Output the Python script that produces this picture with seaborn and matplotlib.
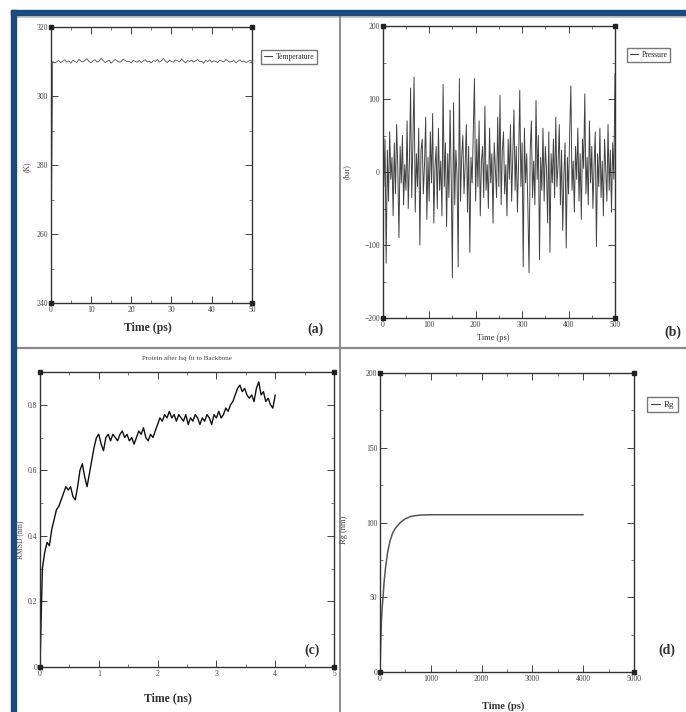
import numpy as np
import pandas as pd
import matplotlib
matplotlib.use("Agg")
import matplotlib.pyplot as plt
import seaborn as sns
from matplotlib.patches import Rectangle
from matplotlib.lines import Line2D
from matplotlib.ticker import MultipleLocator

# ---------------- data ----------------
temp_time = [0.0] + [0.5 * i for i in range(1, 101)]
temp_vals = [240.0,
    310.0, 309.6, 309.9, 310.3, 309.7, 310.1, 310.5, 309.8, 310.2, 309.5,
    310.4, 310.0, 309.7, 310.6, 310.1, 309.9, 310.3, 310.8, 310.0, 309.6,
    310.2, 310.5, 309.8, 310.1, 310.9, 310.3, 309.7, 310.0, 310.4, 309.5,
    310.1, 310.6, 310.2, 309.8, 310.0, 310.7, 310.3, 309.9, 310.1, 309.6,
    310.4, 310.0, 309.8, 310.3, 309.7, 310.2, 310.5, 309.9, 310.1, 309.6,
    310.3, 310.0, 310.6, 309.8, 310.2, 310.9, 310.1, 309.7, 310.4, 310.0,
    309.8, 310.5, 310.2, 309.9, 310.7, 310.1, 309.6, 310.3, 310.0, 310.4,
    309.8, 310.2, 310.6, 309.9, 310.1, 309.5, 310.3, 310.0, 310.5, 309.8,
    310.2, 310.0, 309.7, 310.4, 310.1, 309.9, 310.6, 310.2, 309.8, 310.0,
    310.3, 309.6, 310.1, 310.5, 309.9, 310.2, 309.7, 310.0, 310.3, 310.1]

press_vals = [
    60, -20, 45, -125, 30, -40, 55, -10, 20, -60,
    40, -30, 65, 5, -90, 35, -15, 50, -45, 10,
    -25, 70, -50, 15, 115, -35, 40, 130, -55, 25,
    -20, 60, -100, 30, 45, -30, 10, 75, -65, 20,
    -40, 55, -15, 80, -70, 5, 35, -50, 60, -25,
    15, -60, 120, -20, 40, -75, 25, -35, 85, -10,
    -145, 95, -45, 30, -5, -130, 128, -40, 20, 50,
    -30, 10, 65, -55, 35, -110, 20, -15, 55, 128,
    -40, 45, -20, 70, -60, 15, 35, -35, 90, -25,
    10, -50, 60, -15, 25, -70, 40, 5, -35, 75,
    -20, 105, -45, 30, 55, -30, 10, -60, 45, -10,
    65, -40, 20, 85, -25, 35, -55, 15, 112, -20,
    40, -130, 60, -15, 25, -50, -138, 30, 70, -35,
    15, -45, 98, -10, 50, -120, 20, -25, 60, -40,
    35, 5, -70, 55, -110, 25, -15, 45, -35, 75,
    -20, 10, 65, -45, 30, -80, -5, 40, -104, 20,
    -30, 55, 118, -25, 15, -55, 35, -10, 60, -40,
    25, -65, 45, 5, 107, -30, 20, -45, 70, -15,
    35, -50, 10, 55, -102, 25, -20, 60, -35, 15,
    -60, 45, 5, -40, 65, -25, 30, -55, 40, -10,
    135]
press_time = [2.5 * i for i in range(len(press_vals))]

rmsd_vals = [
    0.00, 0.30, 0.35, 0.38, 0.37, 0.42, 0.45, 0.48, 0.49, 0.51,
    0.53, 0.55, 0.54, 0.55, 0.52, 0.51, 0.55, 0.60, 0.62, 0.58,
    0.55, 0.59, 0.63, 0.67, 0.70, 0.71, 0.68, 0.66, 0.70, 0.71,
    0.69, 0.71, 0.70, 0.69, 0.71, 0.72, 0.70, 0.71, 0.69, 0.70,
    0.68, 0.70, 0.72, 0.71, 0.73, 0.70, 0.69, 0.71, 0.70, 0.72,
    0.74, 0.76, 0.75, 0.77, 0.76, 0.78, 0.76, 0.77, 0.75, 0.77,
    0.76, 0.75, 0.77, 0.74, 0.76, 0.75, 0.77, 0.76, 0.74, 0.76,
    0.75, 0.77, 0.76, 0.74, 0.77, 0.76, 0.78, 0.76, 0.77, 0.79,
    0.78, 0.80, 0.81, 0.83, 0.85, 0.86, 0.84, 0.85, 0.83, 0.82,
    0.83, 0.81, 0.85, 0.87, 0.83, 0.84, 0.81, 0.82, 0.80, 0.79,
    0.83]
rmsd_time = [0.04 * i for i in range(len(rmsd_vals))]

rg_time = [0, 10, 20, 30, 45, 60, 80, 100, 125, 150, 200, 250, 300, 400,
           500, 600, 700, 800, 1000, 1500, 2000, 3000, 4000]
rg_vals = [0, 14, 26, 35, 44, 50, 60, 67, 74, 80, 88, 93, 96, 100,
           102.5, 104, 104.6, 105, 105.2, 105.2, 105.2, 105.2, 105.2]

# ---------------- style ----------------
sns.set_style("ticks")
plt.rcParams["font.family"] = ["Liberation Serif", "DejaVu Serif"]
plt.rcParams["axes.linewidth"] = 1.0
plt.rcParams["axes.edgecolor"] = "#333333"

W, H = 686, 712
fig = plt.figure(figsize=(W / 100, H / 100), dpi=100)
fig.patch.set_facecolor("white")


def fx(x):
    return x / W


def fy(y):
    return 1 - y / H


def make_ax(left, top, right, bottom):
    return fig.add_axes([fx(left), fy(bottom), (right - left) / W, (bottom - top) / H])


def style(ax, xmaj, xmin, ymaj, ymin, fs=5.5):
    ax.xaxis.set_major_locator(MultipleLocator(xmaj))
    ax.xaxis.set_minor_locator(MultipleLocator(xmin))
    ax.yaxis.set_major_locator(MultipleLocator(ymaj))
    ax.yaxis.set_minor_locator(MultipleLocator(ymin))
    ax.tick_params(which="both", direction="in", top=True, right=True,
                   labelsize=fs, colors="#444444", pad=2)
    ax.tick_params(which="major", length=5, width=0.7)
    ax.tick_params(which="minor", length=2.5, width=0.5)
    for s in ax.spines.values():
        s.set_visible(True)
        s.set_color("#333333")
    ax.set_xlabel("")
    ax.set_ylabel("")
    # grace-style corner markers
    ax.plot([0, 1, 0, 1], [0, 0, 1, 1], transform=ax.transAxes, ls="none",
            marker="s", ms=3.5, color="#222222", clip_on=False, zorder=5)


def legend(ax, label, x0, y0, x1, y1, fs=5.5):
    h = [Line2D([], [], color="#444444", lw=0.8)]
    fig.legend(h, [label], loc="center left",
               bbox_to_anchor=(fx(x0), fy(y1), (x1 - x0) / W, (y1 - y0) / H),
               fontsize=fs, frameon=True, fancybox=False, framealpha=1,
               edgecolor="#777777", handlelength=1.0, handletextpad=0.5,
               borderpad=0.4, borderaxespad=0)


# ---------------- (a) temperature ----------------
ax_a = make_ax(50.7, 27, 252, 303)
df_a = pd.DataFrame({"t": temp_time, "T": temp_vals})
sns.lineplot(data=df_a, x="t", y="T", ax=ax_a, color="#555555", lw=0.6)
ax_a.set_xlim(0, 50)
ax_a.set_ylim(240, 320)
style(ax_a, 10, 5, 20, 10)
legend(ax_a, "Temperature", 261, 47, 330, 67)
fig.text(fx(27), fy(167), "(K)", rotation=90, fontsize=5.5, ha="center", va="center", color="#444444")
fig.text(fx(148), fy(328), "Time (ps)", fontsize=8.5, fontweight="bold", ha="center", va="center", color="#333333")
fig.text(fx(316), fy(329), "(a)", fontsize=10, fontweight="bold", ha="center", va="center", color="#333333")

# ---------------- (b) pressure ----------------
ax_b = make_ax(382.7, 26, 615, 318)
df_b = pd.DataFrame({"t": press_time, "P": press_vals})
sns.lineplot(data=df_b, x="t", y="P", ax=ax_b, color="#222222", lw=0.7, alpha=0.85)
ax_b.set_xlim(0, 500)
ax_b.set_ylim(-200, 200)
style(ax_b, 100, 50, 100, 50)
legend(ax_b, "Pressure", 627, 47, 690, 63)
fig.text(fx(347), fy(172), "(bar)", rotation=90, fontsize=5.5, ha="center", va="center", color="#444444")
fig.text(fx(493), fy(338), "Time (ps)", fontsize=6, ha="center", va="center", color="#333333")
fig.text(fx(673), fy(332), "(b)", fontsize=10, fontweight="bold", ha="center", va="center", color="#333333")

# ---------------- (c) RMSD ----------------
ax_c = make_ax(40, 372, 334, 667)
df_c = pd.DataFrame({"t": rmsd_time, "r": rmsd_vals})
sns.lineplot(data=df_c, x="t", y="r", ax=ax_c, color="#111111", lw=1.0)
ax_c.set_xlim(0, 5)
ax_c.set_ylim(0, 0.9)
style(ax_c, 1, 0.5, 0.2, 0.1)
ax_c.yaxis.set_major_formatter(matplotlib.ticker.FuncFormatter(lambda v, p: "0" if abs(v) < 1e-9 else f"{v:.1f}"))
fig.text(fx(187), fy(358), "Protein after lsq fit to Backbone", fontsize=5, ha="center", va="center", color="#444444")
fig.text(fx(20), fy(540), "RMSD (nm)", rotation=90, fontsize=5.5, ha="center", va="center", color="#444444")
fig.text(fx(168), fy(698), "Time (ns)", fontsize=8.5, fontweight="bold", ha="center", va="center", color="#333333")
fig.text(fx(312), fy(650), "(c)", fontsize=10, fontweight="bold", ha="center", va="center", color="#333333")

# ---------------- (d) Rg ----------------
ax_d = make_ax(380, 373, 634, 672)
df_d = pd.DataFrame({"t": rg_time, "rg": rg_vals})
sns.lineplot(data=df_d, x="t", y="rg", ax=ax_d, color="#555555", lw=1.1)
ax_d.set_xlim(0, 5000)
ax_d.set_ylim(0, 200)
style(ax_d, 1000, 500, 50, 25)
legend(ax_d, "Rg", 647, 394, 690, 415, fs=6.5)
fig.text(fx(344), fy(530), "Rg (nm)", rotation=90, fontsize=6, ha="center", va="center", color="#444444")
fig.text(fx(503), fy(706), "Time (ps)", fontsize=7.5, fontweight="bold", ha="center", va="center", color="#333333")
fig.text(fx(667), fy(650), "(d)", fontsize=10, fontweight="bold", ha="center", va="center", color="#333333")

# ---------------- frame decorations ----------------
blue = "#1F4A80"
fig.add_artist(Rectangle((fx(11), 0), 5 / W, fy(10), transform=fig.transFigure, color=blue, zorder=10))
fig.add_artist(Rectangle((fx(11), fy(15)), 1 - fx(11), 5 / H, transform=fig.transFigure, color=blue, zorder=10))
fig.add_artist(Line2D([fx(16), 1], [fy(16.5), fy(16.5)], transform=fig.transFigure, color="#cccccc", lw=1.5))
fig.add_artist(Line2D([fx(340), fx(340)], [0, fy(15)], transform=fig.transFigure, color="#888888", lw=1.3))
fig.add_artist(Line2D([fx(16), 1], [fy(348), fy(348)], transform=fig.transFigure, color="#888888", lw=1.6))

fig.savefig("out.png", dpi=100, facecolor="white")
